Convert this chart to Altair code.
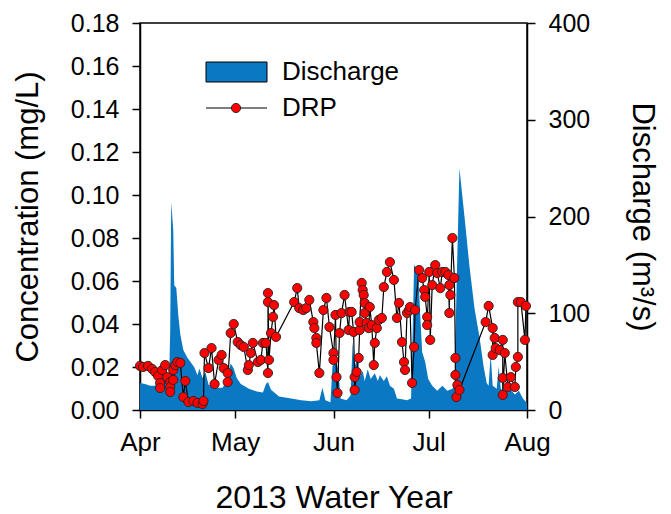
import altair as alt
import pandas as pd

# Stream discharge (m3/s); time given as days since 1 April 2013
q_days = [0.0, 1.59, 3.18, 4.76, 6.35, 7.94, 9.21, 9.53, 9.85, 10.48, 10.80, 11.44,
          12.07, 12.71, 13.66, 14.93, 15.88, 17.15, 18.11, 18.74, 19.70, 20.65, 21.60,
          23.82, 26.05, 27.32, 28.59, 29.54, 30.50, 31.77, 34.31, 36.85, 38.75, 39.71,
          40.34, 41.30, 43.84, 47.65, 50.83, 54.00, 56.54, 57.50, 58.45, 60.04, 60.67,
          61.63, 62.58, 63.21, 65.12, 66.39, 67.03, 67.66, 68.61, 69.25, 70.20, 70.84,
          71.79, 72.74, 74.02, 74.97, 75.60, 76.87, 77.83, 78.78, 80.05, 81.00, 82.59,
          84.18, 85.45, 86.09, 86.40, 87.67, 88.31, 88.95, 89.90, 90.85, 92.12, 93.71,
          95.30, 96.89, 98.48, 99.11, 99.75, 100.70, 102.29, 103.88, 105.46, 107.05,
          108.32, 109.29, 109.91, 110.55, 111.18, 112.45, 113.09, 113.72, 115.00, 116.58,
          118.17, 119.44, 120.71, 122.0]
q_cms = [28, 27, 25, 25, 31, 35, 37, 83, 215, 186, 129, 126,
         98, 78, 62, 54, 50, 44, 36, 43, 33, 39, 26,
         23, 23, 31, 48, 43, 33, 27, 22, 19, 18, 27,
         29, 21, 14, 12, 10, 9, 10, 23, 10, 8, 45,
         55, 40, 12, 10, 15, 70, 45, 55, 35, 40, 30,
         42, 32, 38, 30, 36, 30, 35, 25, 22, 12, 11,
         10, 12, 100, 150, 145, 100, 60, 50, 32, 25, 20,
         25, 20, 22, 25, 120, 250, 200, 148, 105, 75,
         45, 28, 25, 58, 25, 22, 45, 22, 18, 22,
         16, 20, 12, 7]

# Dissolved reactive phosphorus samples (mg/L), in sampling order
drp_days = [0.00, 0.95, 2.54, 3.81, 4.76, 5.72, 6.35, 6.35, 6.99, 7.94, 8.58, 9.53,
            9.53, 9.53, 10.48, 10.48, 11.12, 11.75, 12.71, 13.66, 14.29, 15.25, 16.84,
            18.11, 19.70, 20.01, 20.33, 21.60, 22.55, 23.51, 24.78, 25.73, 26.37, 27.64,
            27.64, 28.59, 29.54, 30.81, 31.77, 32.72, 33.99, 34.31, 34.94, 35.58, 37.17,
            38.12, 38.75, 39.71, 40.34, 40.34, 40.34, 40.66, 41.30, 41.93, 42.25, 42.88,
            48.60, 49.56, 50.19, 51.46, 52.41, 53.37, 54.64, 54.96, 55.59, 55.59, 56.54,
            57.81, 58.77, 59.72, 60.99, 60.99, 61.63, 61.94, 62.26, 62.90, 63.53, 64.49,
            65.76, 66.07, 66.71, 67.34, 67.66, 67.66, 68.30, 68.93, 69.25, 69.25, 69.89,
            70.20, 70.52, 70.84, 70.84, 71.47, 72.11, 72.43, 73.06, 73.70, 74.02, 74.65,
            75.29, 76.24, 76.87, 77.83, 78.78, 80.05, 81.00, 81.64, 82.59, 83.23, 83.55,
            84.18, 84.82, 85.13, 85.77, 86.40, 86.72, 87.99, 88.95, 89.58, 89.90, 90.53,
            90.53, 91.17, 91.49, 92.12, 93.08, 93.71, 94.66, 95.30, 96.25, 97.20, 97.52,
            97.52, 97.84, 98.48, 99.11, 99.43, 99.43, 99.75, 100.06, 100.70, 108.96,
            109.91, 111.18, 111.18, 111.82, 112.13, 113.41, 114.36, 114.36, 114.36,
            115.00, 115.95, 116.90, 118.17, 118.49, 119.12, 119.12, 120.08, 121.35, 121.66]
drp_mgl = [0.0205, 0.0200, 0.0205, 0.0191, 0.0177, 0.0158, 0.0126, 0.0102, 0.0186, 0.0209,
           0.0153, 0.0130, 0.0107, 0.0084, 0.0140, 0.0186, 0.0209, 0.0223, 0.0219, 0.0060,
           0.0135, 0.0037, 0.0042, 0.0033, 0.0028, 0.0042, 0.0265, 0.0195, 0.0288, 0.0121,
           0.0233, 0.0256, 0.0195, 0.0172, 0.0130, 0.0358, 0.0400, 0.0316, 0.0302, 0.0293,
           0.0186, 0.0209, 0.0265, 0.0312, 0.0223, 0.0233, 0.0312, 0.0312, 0.0172, 0.0502,
           0.0544, 0.0233, 0.0358, 0.0433, 0.0488, 0.0340, 0.0502, 0.0567, 0.0474, 0.0465,
           0.0474, 0.0512, 0.0409, 0.0381, 0.0335, 0.0312, 0.0172, 0.0465, 0.0521, 0.0386,
           0.0265, 0.0233, 0.0442, 0.0153, 0.0079, 0.0358, 0.0451, 0.0535, 0.0372, 0.0456,
           0.0456, 0.0363, 0.0153, 0.0093, 0.0177, 0.0242, 0.0372, 0.0409, 0.0591, 0.0558,
           0.0535, 0.0498, 0.0451, 0.0405, 0.0381, 0.0479, 0.0395, 0.0209, 0.0312, 0.0381,
           0.0419, 0.0428, 0.0572, 0.0642, 0.0688, 0.0605, 0.0428, 0.0498, 0.0316, 0.0223,
           0.0186, 0.0451, 0.0465, 0.0479, 0.0126, 0.0293, 0.0465, 0.0651, 0.0614, 0.0558,
           0.0526, 0.0433, 0.0395, 0.0642, 0.0326, 0.0581, 0.0674, 0.0637, 0.0567, 0.0642,
           0.0642, 0.0628, 0.0451, 0.0581, 0.0535, 0.0800, 0.0614, 0.0242, 0.0163, 0.0060,
           0.0116, 0.0093, 0.0409, 0.0484, 0.0381, 0.0256, 0.0335, 0.0288, 0.0279, 0.0326,
           0.0149, 0.0070, 0.0265, 0.0107, 0.0153, 0.0107, 0.0200, 0.0247, 0.0502, 0.0502,
           0.0326, 0.0484]

conc_ticks = [0.00, 0.02, 0.04, 0.06, 0.08, 0.10, 0.12, 0.14, 0.16, 0.18]
q_ticks = [0, 100, 200, 300, 400]
month_ticks = [4, 5, 6, 7, 8]

start = pd.Timestamp("2013-04-01")


def to_dates(days):
    return [(start + pd.Timedelta(days=d)).strftime("%Y-%m-%dT%H:%M:%S") for d in days]


discharge = pd.DataFrame({"date": to_dates(q_days), "q": q_cms})
drp = pd.DataFrame({"date": to_dates(drp_days), "c": drp_mgl, "i": range(len(drp_mgl))})
one = pd.DataFrame({"k": [0]})

FONT = "Liberation Sans"
BLUE = "#0a78c2"
W, H = 387, 387

x_scale = alt.Scale(domain=[alt.DateTime(year=2013, month=4, date=1),
                            alt.DateTime(year=2013, month=8, date=1)])
x_axis = alt.Axis(values=[alt.DateTime(year=2013, month=m, date=1) for m in month_ticks],
                  format="%b", title="2013 Water Year", titleX=W / 2, titleY=97,
                  titleBaseline="alphabetic", titleFontSize=32, labelFontSize=26,
                  labelPadding=11)
x_enc = alt.X("date:T", scale=x_scale, axis=x_axis)

area = alt.Chart(discharge).mark_area(color=BLUE, interpolate="linear").encode(
    x=x_enc,
    y=alt.Y("q:Q", scale=alt.Scale(domain=[0, 400], nice=False),
            axis=alt.Axis(orient="right", values=q_ticks, format="d",
                          title="Discharge (m³/s)", titleAngle=90, titleX=105,
                          titleY=H / 2, titleBaseline="alphabetic", titleAlign="center")),
)

drp_y = alt.Y("c:Q", scale=alt.Scale(domain=[0, 0.18], nice=False),
              axis=alt.Axis(orient="left", values=conc_ticks, format=".2f",
                            title="Concentration (mg/L)", titleAngle=270, titleX=-103,
                            titleY=H / 2, titleBaseline="alphabetic", titleAlign="center"))

drp_line = alt.Chart(drp).mark_line(color="black", strokeWidth=1.2).encode(
    x=x_enc,
    y=drp_y,
    order="i:Q",
)
drp_pts = alt.Chart(drp).mark_point(shape="circle", filled=True, fill="#ff0000",
                                    stroke="#222222", strokeWidth=0.9, size=85,
                                    opacity=1).encode(
    x=x_enc,
    y=drp_y,
)

# legend, drawn inside the plot area
leg_rect = alt.Chart(one).mark_rect(fill=BLUE, stroke="black", strokeWidth=1).encode(
    x=alt.value(66), x2=alt.value(127), y=alt.value(39), y2=alt.value(59))
leg_rule = alt.Chart(one).mark_rule(color="black", strokeWidth=1.2).encode(
    x=alt.value(66), x2=alt.value(127), y=alt.value(85))
leg_dot = alt.Chart(one).mark_point(shape="circle", filled=True, fill="#ff0000",
                                    stroke="#222222", strokeWidth=0.9, size=85,
                                    opacity=1).encode(
    x=alt.value(96), y=alt.value(85))
leg_text = alt.Chart(pd.DataFrame({"label": ["Discharge", "DRP"], "yy": [49, 85]})).mark_text(
    font=FONT, fontSize=26, align="left", baseline="middle", color="black").encode(
    x=alt.value(142), y=alt.Y("yy:Q", scale=None), text="label:N")

chart = alt.layer(
    area,
    alt.layer(drp_line, drp_pts),
    leg_rect, leg_rule, leg_dot, leg_text,
).resolve_scale(y="independent").properties(
    width=W, height=H,
    autosize=alt.AutoSizeParams(type="none"),
    padding={"left": 140, "top": 23, "right": 144, "bottom": 104},
    background="white",
).configure_axis(
    domainColor="black", domainWidth=1.5, tickColor="black", tickWidth=1.5, tickSize=8,
    labelFont=FONT, labelFontSize=25, labelColor="black", labelPadding=13,
    labelFlush=False, labelOverlap=False,
    titleFont=FONT, titleFontSize=31, titleFontWeight="normal", titleColor="black",
    grid=False,
).configure_view(stroke="black", strokeWidth=1.5)

chart.save("out.html", embed_options={"renderer": "svg", "actions": False})
